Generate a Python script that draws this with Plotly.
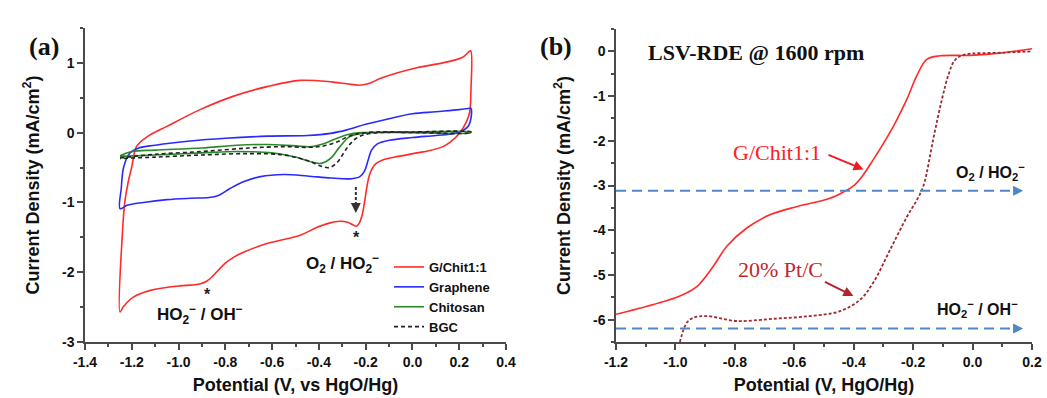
import plotly.graph_objects as go

# ---------------- Panel (a): CV curves ----------------
red_x = [-1.25, -1.24, -1.23, -1.215, -1.20, -1.18, -1.135, -1.05, -0.908, -0.767, -0.622, -0.48, -0.34, -0.28,
         -0.23, -0.19, -0.127, 0.019, 0.13, 0.215, 0.245, 0.25, 0.25, 0.245, 0.23, 0.203, 0.16, 0.13, 0.07, 0.019,
         -0.06, -0.127, -0.155, -0.17, -0.185, -0.195, -0.205, -0.215, -0.228, -0.24, -0.255, -0.28, -0.31, -0.36,
         -0.41, -0.48, -0.622, -0.72, -0.767, -0.80, -0.83, -0.855, -0.88, -0.91, -0.95, -0.994, -1.12, -1.195,
         -1.237, -1.25]
red_y = [-2.57, -1.44, -1.0, -0.7, -0.49, -0.2, -0.06, 0.09, 0.33, 0.52, 0.66, 0.75, 0.725, 0.70,
         0.68, 0.70, 0.79, 0.93, 1.0, 1.08, 1.17, 1.17, 0.6, 0.3, 0.15, 0.0, -0.14, -0.2, -0.26, -0.29,
         -0.34, -0.39, -0.44, -0.5, -0.62, -0.78, -1.0, -1.18, -1.3, -1.34, -1.32, -1.28, -1.27, -1.3,
         -1.36, -1.47, -1.59, -1.71, -1.79, -1.87, -1.97, -2.06, -2.13, -2.17, -2.185, -2.195, -2.26, -2.36,
         -2.5, -2.57]

blue_x = [-1.25, -1.245, -1.235, -1.21, -1.17, -1.1, -0.95, -0.8, -0.62, -0.45, -0.35, -0.28, -0.2, -0.1,
          0.0, 0.1, 0.2, 0.245, 0.25, 0.25, 0.24, 0.22, 0.18, 0.1, 0.0, -0.1, -0.15, -0.175, -0.19, -0.205,
          -0.225, -0.26, -0.35, -0.45, -0.55, -0.65, -0.72, -0.78, -0.83, -0.87, -0.95, -1.05, -1.15, -1.22, -1.25]
blue_y = [-1.09, -0.8, -0.5, -0.3, -0.22, -0.18, -0.12, -0.08, -0.05, -0.04, -0.01, 0.04, 0.12, 0.2,
          0.27, 0.3, 0.33, 0.35, 0.35, 0.2, 0.1, 0.04, -0.01, -0.04, -0.07, -0.11, -0.16, -0.25, -0.4, -0.55,
          -0.63, -0.66, -0.65, -0.62, -0.6, -0.63, -0.7, -0.8, -0.9, -0.93, -0.94, -0.96, -1.0, -1.04, -1.09]

green_x = [-1.25, -1.2, -1.1, -0.9, -0.75, -0.62, -0.5, -0.43, -0.38, -0.33, -0.28, -0.22, 0.0, 0.25,
           0.25, 0.0, -0.22, -0.27, -0.31, -0.35, -0.39, -0.43, -0.5, -0.6, -0.75, -0.9, -1.1, -1.25]
green_y = [-0.33, -0.27, -0.25, -0.22, -0.18, -0.17, -0.19, -0.2, -0.16, -0.09, -0.03, 0.0, 0.01, 0.01,
           0.0, 0.0, -0.01, -0.06, -0.2, -0.37, -0.44, -0.42, -0.35, -0.29, -0.27, -0.29, -0.32, -0.34]

bgc_x = [-1.25, -1.1, -0.9, -0.7, -0.55, -0.45, -0.38, -0.32, -0.27, -0.2, 0.0, 0.25,
         0.25, -0.18, -0.24, -0.28, -0.32, -0.355, -0.39, -0.45, -0.55, -0.7, -0.9, -1.1, -1.25]
bgc_y = [-0.36, -0.31, -0.27, -0.22, -0.2, -0.21, -0.19, -0.13, -0.05, 0.0, 0.01, 0.01,
         0.0, -0.01, -0.08, -0.22, -0.42, -0.5, -0.48, -0.4, -0.32, -0.3, -0.32, -0.35, -0.37]

# ---------------- Panel (b): LSV curves ----------------
gchit_x = [-1.2, -1.074, -0.985, -0.928, -0.872, -0.827, -0.76, -0.68, -0.59, -0.49, -0.45, -0.401, -0.37,
           -0.334, -0.266, -0.221, -0.188, -0.154, -0.109, -0.008, 0.104, 0.2]
gchit_y = [-5.88, -5.66, -5.47, -5.26, -4.8, -4.36, -3.95, -3.65, -3.47, -3.31, -3.2, -3.01, -2.78,
           -2.42, -1.67, -1.07, -0.55, -0.18, -0.1, -0.09, -0.03, 0.06]

ptc_x = [-0.985, -0.962, -0.94, -0.895, -0.794, -0.67, -0.547, -0.446, -0.378, -0.334, -0.277, -0.221,
         -0.188, -0.165, -0.132, -0.103, -0.08, -0.06, -0.03, 0.1, 0.2]
ptc_y = [-6.5, -6.07, -5.96, -5.92, -6.03, -5.98, -5.92, -5.81, -5.55, -5.17, -4.43, -3.7,
         -3.33, -3.0, -1.95, -1.07, -0.5, -0.2, -0.08, -0.03, 0.0]

# guide arrows (reduction steps) in panel (b)
step_levels = [-3.12, -6.2]
step_x = [-1.2, 0.17]

# ticks
a_xticks = [-1.4, -1.2, -1.0, -0.8, -0.6, -0.4, -0.2, 0.0, 0.2, 0.4]
a_yticks = [1, 0, -1, -2, -3]
b_xticks = [-1.2, -1.0, -0.8, -0.6, -0.4, -0.2, 0.0, 0.2]
b_yticks = [0, -1, -2, -3, -4, -5, -6]

SANS = "Arial, Liberation Sans, sans-serif"
SERIF = "Times New Roman, Liberation Serif, serif"
AXC = "#4a4a4a"
SM = 1.0

fig = go.Figure()

fig.add_trace(go.Scatter(x=red_x, y=red_y, mode="lines", name="G/Chit1:1",
                         line=dict(color="#ff2a2a", width=1.6, shape="spline", smoothing=SM)))
fig.add_trace(go.Scatter(x=blue_x, y=blue_y, mode="lines", name="Graphene",
                         line=dict(color="#2a2aff", width=1.6, shape="spline", smoothing=SM)))
fig.add_trace(go.Scatter(x=green_x, y=green_y, mode="lines", name="Chitosan",
                         line=dict(color="#2a8a2a", width=1.6, shape="spline", smoothing=SM)))
fig.add_trace(go.Scatter(x=bgc_x, y=bgc_y, mode="lines", name="BGC",
                         line=dict(color="#222222", width=1.6, dash="4px,3px", shape="spline", smoothing=SM)))

# vertical dotted arrow in (a)
arr_x = [-0.242, -0.242]
arr_y = [-0.78, -1.05]
fig.add_trace(go.Scatter(x=arr_x, y=arr_y, mode="lines", showlegend=False, hoverinfo="skip",
                         line=dict(color="#333333", width=2, dash="3px,2px")))

fig.add_trace(go.Scatter(x=gchit_x, y=gchit_y, mode="lines", showlegend=False, xaxis="x2", yaxis="y2",
                         line=dict(color="#ff2a2a", width=1.6, shape="spline", smoothing=SM)))
fig.add_trace(go.Scatter(x=ptc_x, y=ptc_y, mode="lines", showlegend=False, xaxis="x2", yaxis="y2",
                         line=dict(color="#9e2a2e", width=1.8, dash="3px,2px", shape="spline", smoothing=SM)))
for lv in step_levels:
    fig.add_trace(go.Scatter(x=[step_x[0], step_x[1] - 0.02], y=[lv, lv], mode="lines", showlegend=False,
                             xaxis="x2", yaxis="y2", hoverinfo="skip",
                             line=dict(color="#4f86c6", width=2, dash="10px,6px")))

ann = []
# arrow heads
ann.append(dict(x=-0.242, y=-1.15, ax=-0.242, ay=-1.05, xref="x", yref="y", axref="x", ayref="y",
                text="", showarrow=True, arrowhead=2, arrowsize=1, arrowwidth=2, arrowcolor="#333333"))
for lv in step_levels:
    ann.append(dict(x=step_x[1], y=lv, ax=step_x[1] - 0.03, ay=lv, xref="x2", yref="y2", axref="x2", ayref="y2",
                    text="", showarrow=True, arrowhead=2, arrowsize=1, arrowwidth=2, arrowcolor="#4f86c6"))
# panel (a) texts
ann.append(dict(x=-0.24, y=-1.5, xref="x", yref="y", text="*", showarrow=False,
                font=dict(family=SANS, size=16, color="#222", weight="bold")))
ann.append(dict(x=-0.878, y=-2.32, xref="x", yref="y", text="*", showarrow=False,
                font=dict(family=SANS, size=16, color="#222", weight="bold")))
ann.append(dict(x=-0.297, y=-1.87, xref="x", yref="y", text="O<sub>2</sub> / HO<sub>2</sub><sup>−</sup>",
                showarrow=False, font=dict(family=SANS, size=17, color="#111", weight="bold")))
ann.append(dict(x=-0.908, y=-2.6, xref="x", yref="y", text="HO<sub>2</sub><sup>−</sup> / OH<sup>−</sup>",
                showarrow=False, font=dict(family=SANS, size=17, color="#111", weight="bold")))
# panel (b) texts
ann.append(dict(x=-1.1, y=-0.02, xref="x2", yref="y2", text="LSV-RDE @ 1600 rpm", xanchor="left",
                showarrow=False, font=dict(family=SERIF, size=22, color="#111", weight="bold")))
ann.append(dict(x=-0.659, y=-2.27, xref="x2", yref="y2", text="G/Chit1:1", showarrow=False,
                font=dict(family=SERIF, size=22, color="#ff2020")))
ann.append(dict(x=-0.367, y=-2.64, ax=-0.49, ay=-2.30, xref="x2", yref="y2", axref="x2", ayref="y2",
                text="", showarrow=True, arrowhead=2, arrowsize=1, arrowwidth=2, arrowcolor="#ee1c24"))
ann.append(dict(x=-0.648, y=-4.88, xref="x2", yref="y2", text="20% Pt/C", showarrow=False,
                font=dict(family=SERIF, size=22, color="#c0272d")))
ann.append(dict(x=-0.401, y=-5.47, ax=-0.502, ay=-5.14, xref="x2", yref="y2", axref="x2", ayref="y2",
                text="", showarrow=True, arrowhead=2, arrowsize=1, arrowwidth=2, arrowcolor="#b5242a"))
ann.append(dict(x=0.06, y=-2.7, xref="x2", yref="y2", text="O<sub>2</sub> / HO<sub>2</sub><sup>−</sup>",
                showarrow=False, font=dict(family=SANS, size=16, color="#111", weight="bold")))
ann.append(dict(x=0.015, y=-5.77, xref="x2", yref="y2", text="HO<sub>2</sub><sup>−</sup> / OH<sup>−</sup>",
                showarrow=False, font=dict(family=SANS, size=16, color="#111", weight="bold")))
# panel labels
ann.append(dict(x=27 / 1047, y=1 - 30 / 398, xref="paper", yref="paper", text="(a)", showarrow=False,
                font=dict(family=SERIF, size=26, color="#111", weight="bold")))
ann.append(dict(x=556 / 1047, y=1 - 30 / 398, xref="paper", yref="paper", text="(b)", showarrow=False,
                font=dict(family=SERIF, size=26, color="#111", weight="bold")))

tickfont = dict(family=SANS, size=14, color="#111", weight="bold")
titlefont = dict(family=SANS, size=18, color="#111", weight="bold")

def axis_style(**kw):
    d = dict(showline=True, linecolor=AXC, linewidth=1.5, mirror=False, ticks="outside", ticklen=6,
             tickwidth=1.5, tickcolor=AXC, showgrid=False, zeroline=False, tickfont=tickfont,
             automargin=False, fixedrange=True)
    d.update(kw)
    return d

fig.update_layout(
    width=1047, height=398, margin=dict(l=0, r=0, t=0, b=0),
    paper_bgcolor="white", plot_bgcolor="white",
    xaxis=axis_style(domain=[85 / 1047, 506 / 1047], range=[-1.4, 0.4], tickvals=a_xticks,
                     ticktext=[f"{v:.1f}" for v in a_xticks],
                     minor=dict(dtick=0.1, tick0=-1.4, ticks="outside", ticklen=3.5, tickcolor=AXC, tickwidth=1.5),
                     title=dict(text="Potential (V, vs HgO/Hg)", font=titlefont, standoff=10), anchor="y"),
    yaxis=axis_style(domain=[56 / 398, 370 / 398], range=[-3, 1.5], tickvals=a_yticks,
                     ticktext=[str(v) for v in a_yticks],
                     minor=dict(dtick=0.5, tick0=0, ticks="outside", ticklen=3.5, tickcolor=AXC, tickwidth=1.5),
                     title=dict(text="Current Density (mA/cm<sup>2</sup>)", font=titlefont, standoff=18), anchor="x"),
    xaxis2=axis_style(domain=[616 / 1047, 1032 / 1047], range=[-1.2, 0.2], tickvals=b_xticks,
                      ticktext=[f"{v:.1f}" for v in b_xticks],
                      minor=dict(dtick=0.1, tick0=-1.2, ticks="outside", ticklen=3.5, tickcolor=AXC, tickwidth=1.5),
                      title=dict(text="Potential (V, HgO/Hg)", font=titlefont, standoff=10), anchor="y2"),
    yaxis2=axis_style(domain=[56 / 398, 369 / 398], range=[-6.5, 0.5], tickvals=b_yticks,
                      ticktext=[str(v) for v in b_yticks],
                      minor=dict(dtick=0.5, tick0=0, ticks="outside", ticklen=3.5, tickcolor=AXC, tickwidth=1.5),
                      title=dict(text="Current Density (mA/cm<sup>2</sup>)", font=titlefont, standoff=18), anchor="x2"),
    legend=dict(x=389 / 1047, y=1 - 252 / 398, xanchor="left", yanchor="top", bgcolor="rgba(0,0,0,0)",
                font=dict(family=SANS, size=13, color="#111", weight="bold"), tracegroupgap=0, itemwidth=30),
    annotations=ann,
    showlegend=True,
)

fig.write_html("out.html")
